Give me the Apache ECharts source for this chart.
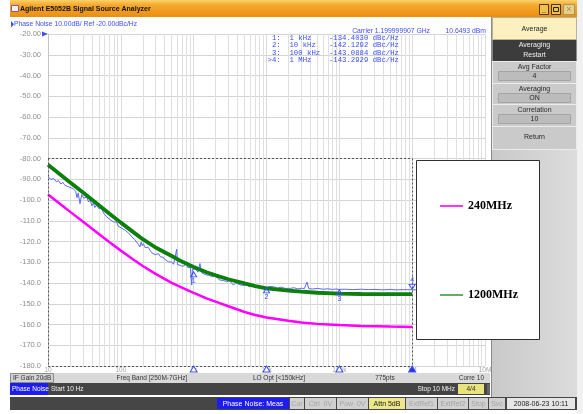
<!DOCTYPE html>
<html>
<head>
<meta charset="utf-8">
<script src="https://cdn.jsdelivr.net/npm/echarts@6/dist/echarts.min.js"></script>
<style>
html,body{margin:0;padding:0;background:#ffffff;}
#chart{width:583px;height:414px;}
</style>
</head>
<body>
<div id="chart"></div>
<script>
// ---- Axis ticks ----
const xTickLabels = ['10', '100', '1k', '10k', '100k', '1M', '10M'];   // 10 Hz .. 10 MHz

// ---- Overlay curves (offset frequency Hz, dBc/Hz) ----
const curveFreqs = [10, 15, 20, 30, 50, 70, 100, 150, 200, 300, 500, 700, 1e3, 1.5e3, 2e3, 3e3, 5e3, 7e3, 1e4, 2e4, 3e4, 5e4, 1e5, 2e5, 5e5, 1e6];
const noise240MHz = [-97.3, -102.2, -105.6, -110.4, -116.4, -120.4, -124.4, -128.8, -131.8, -135.6, -139.9, -142.4, -144.8, -147.4, -149.0, -151.2, -154.0, -155.4, -156.6, -158.2, -159.0, -159.7, -160.3, -160.7, -161.0, -161.2];
const noise1200MHz = [-83.0, -87.9, -91.4, -96.3, -102.5, -106.6, -110.9, -115.6, -118.9, -122.9, -127.0, -129.8, -132.3, -134.8, -136.3, -138.2, -140.2, -141.5, -142.6, -143.7, -144.2, -144.7, -145.1, -145.3, -145.4, -145.4];

// ---- Marker readout ----
const markerFreqs = [1e3, 1e4, 1e5, 1e6];
const markerFreqText = ['1 kHz', '10 kHz', '100 kHz', '1 MHz'];
const markerValues = [-134.4030, -142.1292, -143.0884, -143.2929];

// ---- Measured trace (offset Hz, dBc/Hz), marker points are merged in below ----
const measuredTrace = [
  [10,-88.8],[11,-90.1],[12,-89.6],[13,-91.2],[14,-90.7],[15,-92.3],[16,-91.5],[17,-92.9],[18,-92.2],[19,-93.6],
  [20,-93.0],[22,-94.5],[24,-95.8],[25,-98.9],[26,-96.6],[27.5,-101.8],[29,-97.4],[31,-99.2],[33,-98.3],[34,-98.5],
  [36,-101.0],[38,-100.0],[40,-102.8],[42,-101.5],[44,-103.6],[46,-102.6],[49,-101.7],[51,-104.4],[53,-103.2],[55,-104.1],
  [58,-106.3],[61,-105.4],[64,-108.1],[68,-107.5],[72,-109.6],[76,-109.0],[79,-110.5],[83,-111.3],[88,-110.7],[92,-112.6],
  [98,-112.1],[104,-113.7],[110,-113.2],[115,-114.6],[120,-114.1],[128,-116.0],[136,-115.6],[142,-117.8],[148,-117.2],[155,-119.0],
  [165,-119.9],[175,-121.5],[183,-122.6],[190,-120.3],[197,-122.0],[204,-121.0],[215,-122.9],[225,-123.5],[238,-122.8],[251,-124.2],
  [265,-125.4],[280,-124.8],[295,-126.3],[310,-126.6],[330,-125.9],[350,-127.4],[383,-127.6],[400,-128.6],[420,-128.1],[450,-129.8],
  [474,-130.6],[500,-129.9],[530,-131.0],[560,-130.4],[585,-123.7],[600,-131.2],[620,-130.8],[650,-131.4],[700,-132.0],[750,-131.6],
  [803,-129.8],[830,-132.6],[870,-133.0],[900,-132.4],[940,-141.0],[960,-133.5],[1050,-133.2],[1100,-133.0],[1150,-134.8],[1220,-130.6],
  [1280,-135.0],[1350,-134.6],[1420,-135.9],[1510,-135.4],[1600,-136.3],[1700,-135.9],[1860,-137.0],[2000,-136.6],[2150,-137.8],[2300,-138.6],
  [2450,-137.9],[2600,-138.8],[2840,-139.4],[3100,-138.9],[3300,-139.8],[3510,-141.0],[3800,-139.9],[4100,-140.6],[4340,-140.2],[4700,-141.2],
  [5000,-140.5],[5360,-141.0],[5800,-141.8],[6300,-140.9],[6800,-141.6],[7350,-141.8],[8000,-141.2],[8600,-142.3],[9090,-141.9],[11000,-141.7],
  [12500,-141.8],[14000,-142.5],[16000,-142.0],[18000,-142.6],[21000,-142.6],[24000,-142.3],[27000,-142.9],[30000,-142.5],[33000,-142.8],[36000,-139.6],
  [38000,-142.7],[43000,-142.9],[50000,-142.6],[60000,-143.0],[70000,-142.8],[80000,-143.1],[90000,-142.9],[120000,-143.0],[150000,-143.2],[200000,-143.0],
  [250000,-143.2],[300000,-143.1],[400000,-143.3],[500000,-143.1],[600000,-143.3],[800000,-143.2],[1500000,-143.3],[2000000,-143.2],[3000000,-143.4],[5000000,-143.3],
  [7000000,-143.4],[10000000,-143.3]
];

// Frame of the overlaid 240/1200 MHz plot (10 Hz..1 MHz, -80..-180 dBc/Hz)
const overlayFreqRange = [10, 1e6];
const overlayDbRange = [-80, -180];

// ---------------------------------------------------------------------------
const BLUE = '#3d4ff0';
const UI = '"Liberation Sans", Arial, sans-serif';
const MONO = '"Liberation Mono", "DejaVu Sans Mono", monospace';

const traceData = measuredTrace.concat(markerFreqs.map((f, i) => [f, markerValues[i]]))
  .sort((a, b) => a[0] - b[0]);

// light vertical lines at 2..9 inside each decade
const minorLines = [];
for (let d = 10; d < 1e7; d *= 10) {
  for (let m = 2; m <= 9; m++) minorLines.push({ xAxis: d * m });
}

const overlayFrame = [
  [{ coord: [overlayFreqRange[0], overlayDbRange[0]] }, { coord: [overlayFreqRange[1], overlayDbRange[0]] }],
  [{ coord: [overlayFreqRange[1], overlayDbRange[0]] }, { coord: [overlayFreqRange[1], overlayDbRange[1]] }],
  [{ coord: [overlayFreqRange[0], overlayDbRange[1]] }, { coord: [overlayFreqRange[1], overlayDbRange[1]] }],
  [{ coord: [overlayFreqRange[0], overlayDbRange[0]] }, { coord: [overlayFreqRange[0], overlayDbRange[1]] }]
];

// ---- window furniture ----
const G = [];
function rect(x, y, w, h, fill, stroke, z) {
  G.push({ type: 'rect', silent: true, z: z || 10, shape: { x: x, y: y, width: w, height: h },
    style: { fill: fill, stroke: stroke || null, lineWidth: stroke ? 1 : 0 } });
}
function text(x, y, s, font, fill, align, z) {
  G.push({ type: 'text', silent: true, z: z || 11, x: x, y: y,
    style: { text: s, font: font, fill: fill, textAlign: align || 'left', align: align || 'left',
      textVerticalAlign: 'middle', verticalAlign: 'middle' } });
}
function poly(points, fill, z) {
  G.push({ type: 'polygon', silent: true, z: z || 11, shape: { points: points }, style: { fill: fill } });
}

// title bar
rect(10, 0, 567, 17, { type: 'linear', x: 0, y: 0, x2: 0, y2: 1,
  colorStops: [{ offset: 0, color: '#fcd26c' }, { offset: 0.3, color: '#f4a82e' }, { offset: 1, color: '#ea8f0e' }] });
rect(11.5, 5.5, 7, 6, '#f2ecf4', '#8d5b8d', 11);
text(20, 9, 'Agilent E5052B Signal Source Analyzer', 'bold 7px ' + UI, '#141414');
rect(539.5, 4.5, 9, 10, '#f2c248', '#4d3a00');
text(544, 10, '_', 'bold 7px ' + UI, '#111', 'center', 12);
rect(551.5, 4.5, 9, 10, '#f2c248', '#4d3a00');
rect(553.5, 7.5, 5, 4, null, '#222', 12);
rect(563.5, 4.5, 11, 10, '#e9cf86', '#a8966a');
text(569, 9.5, '\u00d7', '9px ' + UI, '#a09070', 'center', 12);

// trace header
poly([[11, 21], [14, 24.3], [11, 27.5]], BLUE);
text(14, 24.5, 'Phase Noise 10.00dB/ Ref -20.00dBc/Hz', '6.8px ' + UI, BLUE);
text(430, 31, 'Carrier 1.199999907 GHz', '6.8px ' + UI, BLUE, 'right');
text(486, 31, '10.6493 dBm', '6.8px ' + UI, BLUE, 'right');

// marker table
markerFreqs.forEach(function (f, i) {
  const idx = (i === 3 ? '>' : ' ') + (i + 1) + ':';
  const line = idx + '  ' + markerFreqText[i].padEnd(9, ' ') + markerValues[i].toFixed(4) + ' dBc/Hz';
  text(267.6, 38.3 + i * 7.25, line, '7.3px ' + MONO, BLUE);
});

// softkey panel
rect(491, 17, 86, 380, { type: 'linear', x: 0, y: 0, x2: 1, y2: 0,
  colorStops: [{ offset: 0, color: '#c9c9c9' }, { offset: 1, color: '#dcdcdc' }] }, null, 8);
rect(577, 0, 6, 414, '#f1f1f1', null, 8);
G.push({ type: 'line', silent: true, z: 9, shape: { x1: 491.5, y1: 17, x2: 491.5, y2: 397 }, style: { stroke: '#8a8a8a', lineWidth: 1 } });
rect(492.5, 17.5, 84, 22, '#fcefc0', '#b9b39a');
text(534.5, 29, 'Average', '7px ' + UI, '#262626', 'center');
rect(492.5, 40, 84, 21, '#3c3c3c');
text(534.5, 45.5, 'Averaging', '7px ' + UI, '#f0f0f0', 'center');
text(534.5, 55, 'Restart', '7px ' + UI, '#f0f0f0', 'center');
const keys = [
  { y: 61, h: 22, label: 'Avg Factor', value: '4' },
  { y: 83, h: 21, label: 'Averaging', value: 'ON' },
  { y: 104, h: 22, label: 'Correlation', value: '10' }
];
keys.forEach(function (k) {
  rect(492.5, k.y + 0.5, 84, k.h, '#cacaca', '#ececec');
  text(534.5, k.y + 6, k.label, '7px ' + UI, '#262626', 'center');
  rect(498.5, k.y + 10.5, 72, 9, '#bcbcbc', '#a4a4a4');
  text(534.5, k.y + 15.5, k.value, '7px ' + UI, '#262626', 'center');
});
rect(492.5, 126.5, 84, 23, '#cacaca', '#ececec');
text(534.5, 137, 'Return', '7px ' + UI, '#262626', 'center');

// status rows
rect(10, 373, 480, 10, '#d9d9d9', null, 9);
rect(10.5, 373.5, 43, 9, '#d2d2d2', '#8a8a8a');
text(13, 378.2, 'IF Gain 20dB', '6.5px ' + UI, '#333');
text(152, 378.2, 'Freq Band [250M-7GHz]', '6.5px ' + UI, '#333', 'center');
text(279, 378.2, 'LO Opt [<150kHz]', '6.5px ' + UI, '#333', 'center');
text(385, 378.2, '775pts', '6.5px ' + UI, '#333', 'center');
text(484, 378.2, 'Corre 10', '6.5px ' + UI, '#333', 'right');

rect(10, 383, 480, 12, '#444444', null, 9);
rect(10, 383, 38, 12, '#1d1df2');
text(12, 389.2, 'Phase Noise', '6.5px ' + UI, '#ffffff');
text(51, 389.2, 'Start 10 Hz', '6.5px ' + UI, '#f2f2f2');
text(455, 389.2, 'Stop 10 MHz', '6.5px ' + UI, '#f2f2f2', 'right');
rect(458, 384, 26, 10, '#e8e37c');
text(471, 389.2, '4/4', '6.5px ' + UI, '#333', 'center');
rect(487, 384, 3, 10, '#666666');

rect(10, 397, 567, 13, '#464646', null, 9);
const statusItems = [
  { x: 217, w: 72, t: 'Phase Noise: Meas', bg: '#1d1df2', fg: '#ffffff' },
  { x: 290, w: 14, t: 'Cor', bg: '#d0d0d0', fg: '#a4a4a4' },
  { x: 305, w: 31, t: 'Ctrl  0V', bg: '#d0d0d0', fg: '#a4a4a4' },
  { x: 337, w: 31, t: 'Pow  0V', bg: '#d0d0d0', fg: '#a4a4a4' },
  { x: 369, w: 36, t: 'Attn 5dB', bg: '#ece78a', fg: '#1a1a1a' },
  { x: 406, w: 31, t: 'ExtRef1', bg: '#d0d0d0', fg: '#a4a4a4' },
  { x: 438, w: 30, t: 'ExtRef2', bg: '#d0d0d0', fg: '#a4a4a4' },
  { x: 469, w: 19, t: 'Stop', bg: '#d0d0d0', fg: '#a4a4a4' },
  { x: 489, w: 16, t: 'Svc', bg: '#d0d0d0', fg: '#a4a4a4' },
  { x: 507, w: 68, t: '2008-06-23 10:11', bg: '#e6e6e6', fg: '#1a1a1a' }
];
statusItems.forEach(function (s) {
  rect(s.x, 398, s.w, 11, s.bg, null, 10);
  text(s.x + s.w / 2, 403.8, s.t, '7px ' + UI, s.fg, 'center');
});

// legend frame
rect(416.5, 160.5, 123, 179, '#ffffff', '#303030', 15);

// ---------------------------------------------------------------------------
const chart = echarts.init(document.getElementById('chart'), null, { renderer: 'canvas' });
chart.setOption({
  animation: false,
  backgroundColor: '#ffffff',
  textStyle: { fontFamily: UI },
  grid: { left: 48, right: 98, top: 34, bottom: 48 },
  xAxis: {
    type: 'log', logBase: 10, min: 10, max: 1e7,
    axisLine: { show: false }, axisTick: { show: false },
    splitLine: { show: true, lineStyle: { color: '#dcdcdc', width: 1 } },
    axisLabel: {
      fontSize: 6.5, color: '#a6a6a6', margin: 1, fontFamily: UI,
      formatter: function (v) { return xTickLabels[Math.round(Math.log10(v)) - 1] || ''; }
    }
  },
  yAxis: {
    type: 'value', min: -180, max: -20, interval: 10,
    axisLine: { show: true, lineStyle: { color: '#c4c4c4' } },
    axisTick: { show: false },
    splitLine: { show: true, lineStyle: { color: '#d4d4d4' } },
    axisLabel: {
      fontSize: 7.5, color: '#8e8e8e', margin: 7, fontFamily: UI,
      formatter: function (v) { return v <= -100 ? v.toFixed(1) : v.toFixed(2); }
    }
  },
  legend: {
    data: [{ name: '240MHz', icon: 'rect' }, { name: '1200MHz', icon: 'rect' }],
    orient: 'vertical', left: 440, top: 199,
    itemWidth: 23, itemHeight: 1.6, itemGap: 75, padding: 0, z: 20, selectedMode: false,
    textStyle: { fontFamily: '"Liberation Serif", "Times New Roman", serif', fontWeight: 'bold', fontSize: 12, color: '#000', lineHeight: 14 }
  },
  graphic: { elements: G },
  series: [
    {
      name: 'minor grid', type: 'line', data: [], z: 1, silent: true,
      markLine: {
        z: 1, silent: true, symbol: ['none', 'none'], label: { show: false },
        lineStyle: { color: '#e0e0e0', width: 1, type: 'solid' },
        emphasis: { disabled: true },
        data: minorLines
      }
    },
    {
      name: '1.2 GHz trace', type: 'line', data: traceData, symbol: 'none', z: 6,
      lineStyle: { color: '#5a6bf3', width: 1 },
      markPoint: {
        z: 9, silent: true,
        data: markerFreqs.map(function (f, i) {
          const active = i === 3;
          return {
            coord: [f, markerValues[i]], symbol: 'triangle', symbolSize: [6, 5],
            symbolRotate: active ? 180 : 0, symbolOffset: active ? [0, -3] : [0, 3],
            itemStyle: { color: 'rgba(255,255,255,0)', borderColor: BLUE, borderWidth: 1 },
            label: { show: true, formatter: String(i + 1), position: active ? 'top' : 'bottom',
              distance: 0, fontSize: 7, color: BLUE, fontFamily: UI }
          };
        }).concat([{
          coord: [10, -20], symbol: 'triangle', symbolSize: [5, 6], symbolRotate: -90, symbolOffset: [-3, 0],
          itemStyle: { color: BLUE }, label: { show: false }
        }])
      }
    },
    {
      name: '240MHz', type: 'line', symbol: 'none', z: 7,
      data: curveFreqs.map(function (f, i) { return [f, noise240MHz[i]]; }),
      itemStyle: { color: '#ff00ff' }, lineStyle: { color: '#ff00ff', width: 2.5 }
    },
    {
      name: '1200MHz', type: 'line', symbol: 'none', z: 8,
      data: curveFreqs.map(function (f, i) { return [f, noise1200MHz[i]]; }),
      itemStyle: { color: '#3c9a3c' }, lineStyle: { color: '#0d7f0d', width: 3.8 }
    },
    {
      name: 'frame', type: 'line', data: [], z: 9, silent: true,
      markLine: {
        z: 9, silent: true, symbol: ['none', 'none'], label: { show: false },
        lineStyle: { color: '#555555', width: 1, type: [2, 2] },
        emphasis: { disabled: true },
        data: overlayFrame
      },
      markPoint: {
        z: 9, silent: true,
        data: markerFreqs.map(function (f, i) {
          const active = i === 3;
          return {
            coord: [f, -180], symbol: 'triangle', symbolSize: [7, 6], symbolOffset: [0, 3],
            itemStyle: { color: active ? '#2334e6' : '#ffffff', borderColor: '#3d4ff0', borderWidth: 1 },
            label: { show: false }
          };
        })
      }
    }
  ]
});
</script>
</body>
</html>
